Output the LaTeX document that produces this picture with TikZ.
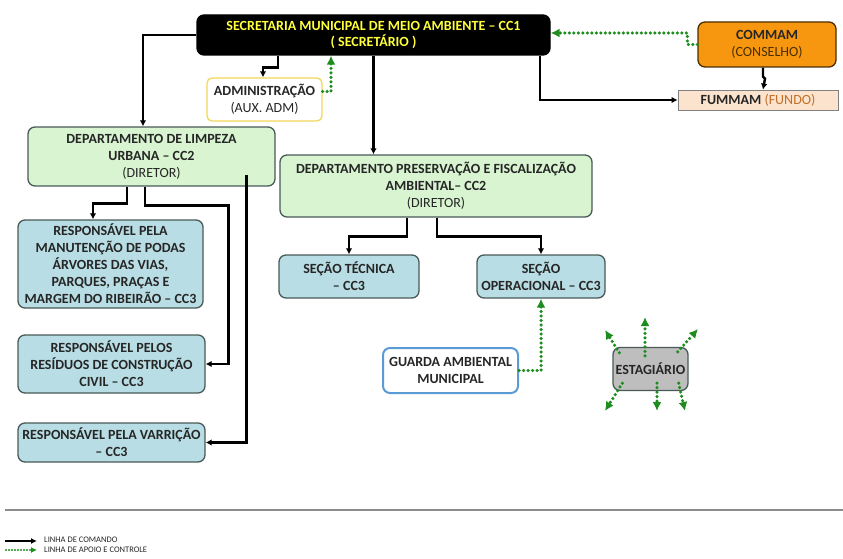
\documentclass[tikz,border=0pt]{standalone}
\usepackage{fontspec}
\setmainfont{Carlito}
\usetikzlibrary{arrows.meta,calc}
\definecolor{txt}{HTML}{262626}
\definecolor{greenfill}{HTML}{D8F4D0}
\definecolor{bluefill}{HTML}{B9DDE4}
\definecolor{boxline}{HTML}{4A5A58}
\definecolor{orangefill}{HTML}{F7960F}
\definecolor{peach}{HTML}{FCE3CD}
\definecolor{supgreen}{HTML}{1E8C1E}
\definecolor{admyellow}{HTML}{F2D65A}
\definecolor{guablue}{HTML}{5B9BD5}
\definecolor{estgray}{HTML}{BEBEBE}
\definecolor{secyellow}{HTML}{FFFF3C}
\definecolor{fundo}{HTML}{C0702A}
\definecolor{conselho}{HTML}{4A3000}
\tikzset{
  base/.style={rounded corners=7pt, align=center, text=txt, font=\fontsize{14}{17}\selectfont\bfseries, inner sep=1pt, line width=1.3pt},
  dept/.style={base, draw=boxline, fill=greenfill},
  resp/.style={base, draw=boxline, fill=bluefill},
  cmd/.style={line width=2.4pt, draw=black, -{Latex[length=6pt,width=6.5pt]}},
  sup/.style={line width=3.5pt, draw=supgreen, line cap=round, dash pattern=on 0pt off 4.5pt, -{Latex[length=9pt,width=9pt]}},
}
\begin{document}
\begin{tikzpicture}[x=1pt,y=-1pt]
\useasboundingbox (0,0) rectangle (843,559);
% nodes
\node[base, draw=black, fill=black, text=secyellow, minimum width=353pt, minimum height=40pt, font=\fontsize{14}{16.5}\selectfont\bfseries] (sec) at (373.5,35)
  {SECRETARIA MUNICIPAL DE MEIO AMBIENTE -- CC1\\( SECRETÁRIO )};
\node[base, draw=admyellow, fill=white, rounded corners=5pt, minimum width=115pt, minimum height=43pt] (adm) at (264.5,99.5)
  {ADMINISTRAÇÃO\\\mdseries (AUX. ADM)};
\node[base, draw=conselho, fill=orangefill, minimum width=138pt, minimum height=45pt] (com) at (767,44.5)
  {COMMAM\\\mdseries\color{conselho}(CONSELHO)};
\node[base, draw=gray, fill=peach, rounded corners=0pt, line width=0.8pt, minimum width=160pt, minimum height=20pt] (fum) at (758,100)
  {FUMMAM \mdseries\color{fundo}(FUNDO)};
\node[dept, minimum width=247pt, minimum height=59pt] (lim) at (151.5,156.5)
  {DEPARTAMENTO DE LIMPEZA\\URBANA -- CC2\\\mdseries (DIRETOR)};
\node[dept, minimum width=312pt, minimum height=62pt] (pre) at (436,186)
  {DEPARTAMENTO PRESERVAÇÃO E FISCALIZAÇÃO\\AMBIENTAL-- CC2\\\mdseries (DIRETOR)};
\node[resp, minimum width=185pt, minimum height=88pt] (r1) at (110.5,264)
  {RESPONSÁVEL PELA\\MANUTENÇÃO DE PODAS\\ÁRVORES DAS VIAS,\\PARQUES, PRAÇAS E\\MARGEM DO RIBEIRÃO -- CC3};
\node[resp, minimum width=187pt, minimum height=58pt] (r2) at (111.5,364)
  {RESPONSÁVEL PELOS\\RESÍDUOS DE CONSTRUÇÃO\\CIVIL -- CC3};
\node[resp, minimum width=187pt, minimum height=39pt] (r3) at (111.5,442.5)
  {RESPONSÁVEL PELA VARRIÇÃO\\-- CC3};
\node[resp, minimum width=140pt, minimum height=43pt] (tec) at (349,276.5)
  {SEÇÃO TÉCNICA\\-- CC3};
\node[resp, minimum width=128pt, minimum height=43pt] (ope) at (541,276.5)
  {SEÇÃO\\OPERACIONAL -- CC3};
\node[base, draw=guablue, fill=white, line width=2pt, minimum width=135pt, minimum height=45pt] (gua) at (450.5,370.5)
  {GUARDA AMBIENTAL\\MUNICIPAL};
\node[base, draw=boxline, fill=estgray, minimum width=75pt, minimum height=43pt] (est) at (650.5,369)
  {ESTAGIÁRIO};
% command lines
\draw[cmd] (sec.west) -| ($(lim.north)+(-8.5,0)$);
\draw[cmd] ($(sec.south)+(-95.5,0)$) -- ++(0,12) -| ($(adm.north)+(-1.5,0)$);
\draw[cmd] (sec.south) -- (sec.south |- pre.north);
\draw[cmd] ($(sec.south)+(166.5,0)$) |- (fum.west);
\draw[cmd] ($(com.south)+(-4,0)$) -- ++(0,9) -- ++(2,2) -- ($(fum.north)+(5,0)$);
\draw[cmd] ($(lim.south)+(-24.5,0)$) -- ++(0,17) -| ($(r1.north)+(-17.5,0)$);
\draw[cmd] ($(lim.south)+(-6.5,0)$) -- ++(0,19) -| ($(r2.east)+(23,0)$) -- (r2.east);
\draw[cmd] ($(lim.east)+(-29,18)$) |- (r3.east);
\draw[cmd] ($(pre.south)+(-29,0)$) -- ++(0,19) -| (tec.north);
\draw[cmd] ($(pre.south)+(1,0)$) -- ++(0,19) -| (ope.north);
% support lines
\draw[sup] ($(adm.east)+(0,-8)$) -| ($(sec.south)+(-42.5,0)$);
\draw[sup] (com.west) -- ++(-10,0) |- ($(sec.east)+(0,-2)$);
\draw[sup] (gua.east) -| (ope.south);
% estagiario arrows
\coordinate (e1) at (605,330);
\coordinate (e2) at (645,317);
\coordinate (e3) at (698,329);
\coordinate (e4) at (605,411);
\coordinate (e5) at (657,411);
\coordinate (e6) at (685,411);
\draw[sup] ($(est.north west)+(7,6)$) -- (e1);
\draw[sup] ($(est.north)+(-5.5,9)$) -- (e2);
\draw[sup] ($(est.north east)+(-11,5)$) -- (e3);
\draw[sup] ($(est.south west)+(10,-8)$) -- (e4);
\draw[sup] ($(est.south)+(6.5,-8)$) -- (e5);
\draw[sup] ($(est.south east)+(-10,-8)$) -- (e6);
% separator and legend
\coordinate (s1) at (5,510);
\coordinate (s2) at (843,510);
\draw[line width=2.5pt, draw=gray!90] (s1) -- (s2);
\coordinate (l1a) at (5,541);
\coordinate (l1b) at (37,541);
\coordinate (l2a) at (6,550);
\coordinate (l2b) at (37,550);
\draw[line width=2pt, -{Latex[length=6pt,width=6pt]}] (l1a) -- (l1b);
\draw[line width=2.2pt, draw=supgreen, line cap=round, dash pattern=on 0pt off 3pt, -{Latex[length=6pt,width=6pt]}] (l2a) -- (l2b);
\node[anchor=west, font=\fontsize{8.5}{9}\selectfont, text=txt, inner sep=0pt] (leg1) at (44,540) {LINHA DE COMANDO};
\node[anchor=west, font=\fontsize{8.5}{9}\selectfont, text=txt, inner sep=0pt] (leg2) at (44,550) {LINHA DE APOIO E CONTROLE};
\end{tikzpicture}
\end{document}
